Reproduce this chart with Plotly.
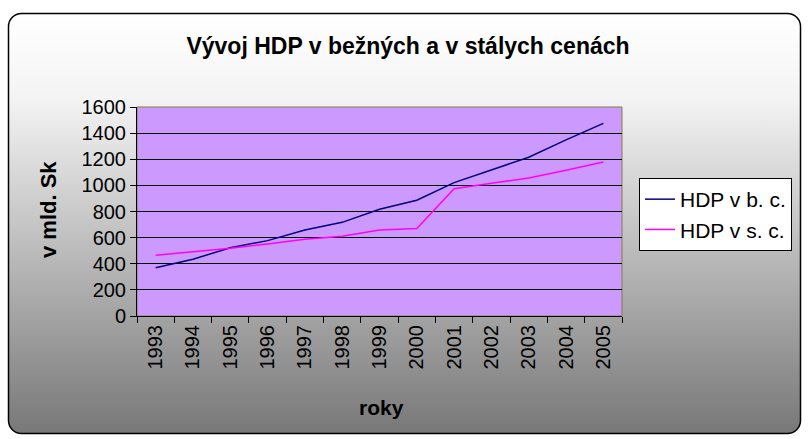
import base64
import plotly.graph_objects as go

# data (mld. Sk)
roky = ["1993", "1994", "1995", "1996", "1997", "1998", "1999",
        "2000", "2001", "2002", "2003", "2004", "2005"]
hdp_bezne = [370, 434, 523, 577, 658, 717, 817, 886, 1021, 1118, 1215, 1348, 1475]
hdp_stale = [465, 490, 518, 551, 587, 610, 658, 669, 975, 1016, 1057, 1116, 1179]
y_ticks = [0, 200, 400, 600, 800, 1000, 1200, 1400, 1600]

W, H = 809, 439
L, R, T, B = 137, 187, 107, 123
pw, ph = W - L - R, H - T - B

FONT = "Liberation Sans, Arial, sans-serif"

# rounded chart frame with white -> grey gradient (Excel style)
svg = f'''<svg xmlns="http://www.w3.org/2000/svg" width="{W}" height="{H}" viewBox="0 0 {W} {H}" preserveAspectRatio="none">
<defs><linearGradient id="g" x1="0" y1="0" x2="0" y2="1">
<stop offset="0" stop-color="#ffffff"/><stop offset="0.2" stop-color="#f4f4f4"/>
<stop offset="1" stop-color="#787878"/></linearGradient></defs>
<rect x="8.5" y="13.5" width="792" height="420" rx="13" ry="13" fill="url(#g)" stroke="#000" stroke-width="1.5"/>
</svg>'''
bg_src = "data:image/svg+xml;base64," + base64.b64encode(svg.encode()).decode()

fig = go.Figure()
fig.add_trace(go.Scatter(x=roky, y=hdp_bezne, mode="lines", name="HDP v b. c.",
                         line=dict(color="#000080", width=1.5)))
fig.add_trace(go.Scatter(x=roky, y=hdp_stale, mode="lines", name="HDP v s. c.",
                         line=dict(color="#FF00FF", width=1.5)))

fig.add_layout_image(dict(source=bg_src, xref="paper", yref="paper",
                          x=-L / pw, y=1 + T / ph, sizex=W / pw, sizey=H / ph,
                          xanchor="left", yanchor="top", sizing="stretch", layer="below"))
fig.add_shape(type="rect", xref="paper", yref="paper", x0=0, x1=1, y0=0, y1=1,
              fillcolor="#CC99FF", line=dict(color="#808040", width=1), layer="below")

# axis titles placed as annotations (pixel positions of the reference)
fig.add_annotation(text="<b>v mld. Sk</b>", xref="paper", yref="paper",
                   x=(48 - L) / pw, y=(H - B - 210) / ph, textangle=-90,
                   showarrow=False, xanchor="center", yanchor="middle",
                   font=dict(size=22, family=FONT))
fig.add_annotation(text="<b>roky</b>", xref="paper", yref="paper",
                   x=(381 - L) / pw, y=-(407 - (H - B)) / ph,
                   showarrow=False, xanchor="center", yanchor="middle",
                   font=dict(size=21, family=FONT))

fig.update_layout(
    width=W, height=H,
    margin=dict(l=L, r=R, t=T, b=B, autoexpand=False),
    paper_bgcolor="white",
    plot_bgcolor="#CC99FF",
    font=dict(family=FONT, size=20, color="black"),
    title=dict(text="<b>Vývoj HDP v bežných a v stálych cenách</b>",
               x=408 / W, xanchor="center", y=1 - 46 / H, yanchor="middle",
               font=dict(size=23, family=FONT)),
    showlegend=True,
    legend=dict(x=(639 - L) / pw, y=(H - B - 178) / ph, xanchor="left", yanchor="top",
                bgcolor="white", bordercolor="black", borderwidth=1,
                font=dict(size=21, family=FONT)),
)

fig.update_xaxes(
    type="category", range=[-0.5, len(roky) - 0.5], tickangle=-90, tickson="boundaries",
    ticks="outside", ticklen=6, tickcolor="black", automargin=False,
    showline=True, linecolor="black", linewidth=1, mirror=False,
    showgrid=False, tickfont=dict(size=20),
)
fig.update_yaxes(
    range=[0, 1600], tickvals=y_ticks, automargin=False,
    ticks="outside", ticklen=6, tickcolor="black",
    showline=True, linecolor="black", linewidth=1,
    showgrid=True, gridcolor="black", gridwidth=1, zeroline=False,
    tickfont=dict(size=20),
)

# the page body has a default 8px margin; drop it so the chart fills the window
fig.write_html("out.html", config={"displayModeBar": False},
               post_script="document.body.style.margin='0';")
